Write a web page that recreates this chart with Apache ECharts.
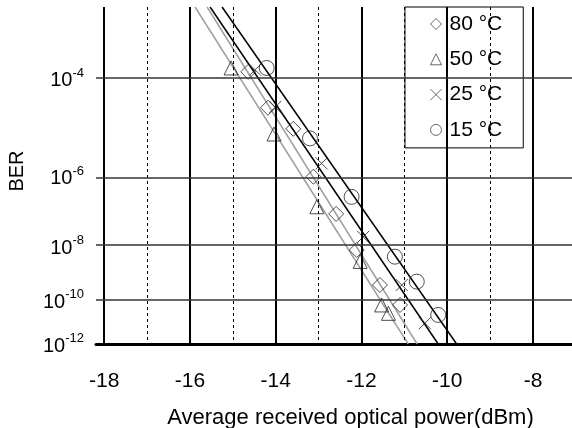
<!DOCTYPE html>
<html>
<head>
<meta charset="utf-8">
<script src="https://cdn.jsdelivr.net/npm/echarts@6.0.0/dist/echarts.min.js"></script>
<style>
html, body { margin: 0; padding: 0; background: #fff; }
#chart { width: 572px; height: 428px; }
</style>
</head>
<body>
<div id="chart"></div>
<script>
// measured points: received power (dBm) and BER
const power80 = [-14.64, -14.18, -13.59, -13.12, -12.59, -12.11, -11.57, -11.10];
const ber80   = [1.3e-4, 3.1e-5, 1.2e-5, 1.0e-6, 1.0e-7, 7.4e-9, 4.0e-10, 6.2e-11];
const power50 = [-15.04, -14.04, -13.04, -12.03, -11.53, -11.37];
const ber50   = [1.5e-4, 9.4e-6, 1.6e-7, 3.0e-9, 6.2e-11, 2.7e-11];
const power25 = [-14.48, -14.01, -12.93, -11.96, -11.06, -10.52];
const ber25   = [1.4e-4, 3.2e-5, 2.1e-6, 2.0e-8, 4.0e-10, 9.8e-12];
const power15 = [-14.21, -13.20, -12.23, -11.22, -10.71, -10.21];
const ber15   = [1.5e-4, 7.6e-6, 3.0e-7, 4.4e-9, 5.4e-10, 2.3e-11];

// fitted lines, end points at top and bottom of the plot
const fitBer = [1.07e-3, 1e-12];
const fitPower80 = [-15.60, -10.70];
const fitPower50 = [-15.88, -10.91];
const fitPower25 = [-15.53, -10.21];
const fitPower15 = [-15.25, -9.78];

const names = ['80 °C', '50 °C', '25 °C', '15 °C'];

// axes
const xRange = [-18.19, -7.09];
const xLabels = [-18, -16, -14, -12, -10, -8];
const xDashed = [-17, -15, -13, -11, -9];
const berRange = [1.07e-3, 1e-12];
const berLabels = [1e-4, 1e-6, 1e-8, 1e-10, 1e-12];
const berGrid = [1e-4, 1e-6, 1e-8, 1e-10];

const FONT = '"Liberation Sans", Arial, sans-serif';

// BER scale: log(-log(BER))
function q(ber) { return Math.log10(-Math.log10(ber)); }
function pts(xs, ys) { return xs.map((x, i) => [x, q(ys[i])]); }

const myChart = echarts.init(document.getElementById('chart'));

const markerStyle = { color: 'rgba(0,0,0,0)', borderColor: '#222', borderWidth: 1 };

function scatter(name, xs, ys, symbol, size) {
    return {
        name: name, type: 'scatter', symbol: symbol, symbolSize: size,
        itemStyle: markerStyle, data: pts(xs, ys), z: 3, silent: true
    };
}
function fit(name, xs, color) {
    return {
        name: name + ' fit', type: 'line', showSymbol: false, symbol: 'none',
        lineStyle: { color: color, width: 1.5 }, data: pts(xs, fitBer), z: 2, silent: true
    };
}

const gridLines = [];
xLabels.forEach(v => gridLines.push({ xAxis: v, lineStyle: { color: '#000', width: 2, type: 'solid' } }));
xDashed.forEach(v => gridLines.push({ xAxis: v, lineStyle: { color: '#000', width: 1, type: [3, 3] } }));
berGrid.forEach(b => gridLines.push({ yAxis: q(b), lineStyle: { color: '#333', width: 1.5, type: 'solid' } }));
gridLines.push({ yAxis: q(berRange[0]), lineStyle: { color: '#555', width: 1, type: 'solid' } });

myChart.setOption({
    animation: false,
    backgroundColor: '#fff',
    textStyle: { fontFamily: FONT },
    grid: { left: 96, right: 0, top: 7, bottom: 84 },
    legend: {
        data: names,
        orient: 'vertical',
        left: 405, top: 7,
        padding: [6.5, 21, 7.5, 25],
        itemGap: 14.3,
        itemWidth: 11, itemHeight: 11,
        backgroundColor: '#fff',
        borderColor: '#000', borderWidth: 1,
        itemStyle: { borderColor: '#444', borderWidth: 1 },
        textStyle: { fontSize: 21, lineHeight: 21, color: '#000', fontFamily: FONT, padding: [0, 0, 0, 3] }
    },
    graphic: [
        {
            type: 'text', x: 350.5, y: 418, silent: true,
            style: {
                text: 'Average received optical power(dBm)', fill: '#000',
                font: '22px ' + FONT, align: 'center', verticalAlign: 'middle'
            }
        },
        {
            type: 'text', x: 17.5, y: 171, rotation: Math.PI / 2, silent: true,
            style: { text: 'BER', fill: '#000', font: '20px ' + FONT, align: 'center', verticalAlign: 'middle' }
        }
    ],
    xAxis: {
        type: 'value',
        min: xRange[0], max: xRange[1],
        axisLine: { show: true, onZero: false, lineStyle: { color: '#000', width: 3 } },
        axisTick: { show: false },
        splitLine: { show: false },
        axisLabel: { customValues: xLabels, fontSize: 21, color: '#000', margin: 27, fontFamily: FONT }
    },
    yAxis: {
        type: 'value',
        inverse: true,
        min: q(berRange[0]), max: q(berRange[1]),
        axisLine: { show: false },
        axisTick: { show: false },
        splitLine: { show: false },
        axisLabel: {
            customValues: berLabels.map(q),
            margin: 12,
            formatter: v => '{b|10}{s|-' + Math.round(Math.pow(10, v)) + '}',
            rich: {
                b: { fontSize: 20, color: '#000', fontFamily: FONT, verticalAlign: 'bottom', lineHeight: 24 },
                s: { fontSize: 13, color: '#000', fontFamily: FONT, verticalAlign: 'top', lineHeight: 13 }
            }
        }
    },
    series: [
        {
            name: 'grid', type: 'line', data: [], silent: true, z: 1,
            markLine: { symbol: 'none', silent: true, label: { show: false }, data: gridLines }
        },
        fit(names[1], fitPower50, '#a0a0a0'),
        fit(names[0], fitPower80, '#a0a0a0'),
        fit(names[2], fitPower25, '#000'),
        fit(names[3], fitPower15, '#000'),
        scatter(names[0], power80, ber80, 'diamond', 15),
        scatter(names[1], power50, ber50, 'triangle', 14),
        scatter(names[2], power25, ber25, 'path://M0,0L10,10M10,0L0,10', 12),
        scatter(names[3], power15, ber15, 'circle', 15)
    ]
});
</script>
</body>
</html>
